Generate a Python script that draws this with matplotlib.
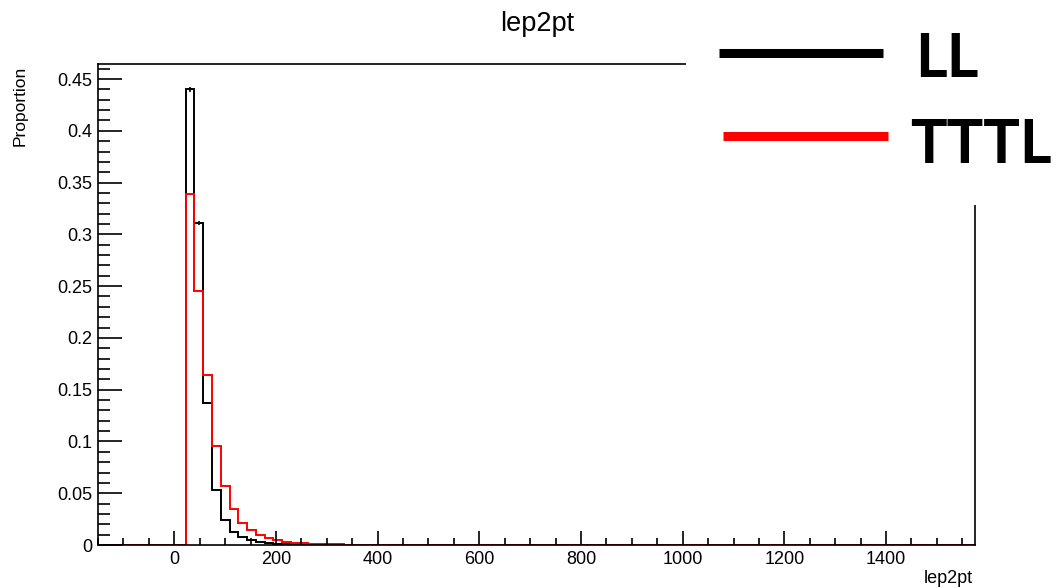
import numpy as np
import matplotlib
matplotlib.use('Agg')
import matplotlib.pyplot as plt
from matplotlib.ticker import MultipleLocator, FormatStrFormatter
from matplotlib.patches import Rectangle
from matplotlib.lines import Line2D

# histogram binning (100 bins)
x_lo, x_hi, n_bins = -150, 1575, 100
first_bin = 10  # first filled bin, starts at ~22.5

# bin contents, starting at first_bin
ll_vals = [0.440, 0.311, 0.137, 0.053, 0.0245, 0.0126, 0.0075, 0.005, 0.0031,
           0.002, 0.0014, 0.001, 0.0007, 0.0005, 0.0004, 0.0003, 0.0002]
ll_errs = [0.0022, 0.0018, 0.0012, 0.0007, 0.0005]
tttl_vals = [0.339, 0.2453, 0.1638, 0.0956, 0.0566, 0.0345, 0.0215, 0.0144,
             0.0101, 0.0068, 0.0045, 0.003, 0.0022, 0.0016, 0.0012, 0.0009,
             0.0007, 0.0005, 0.0004, 0.0003, 0.0002]
legend_labels = ['LL', 'TTTL']

edges = np.linspace(x_lo, x_hi, n_bins + 1)
centers = 0.5 * (edges[:-1] + edges[1:])

def full(vals):
    out = np.zeros(n_bins)
    out[first_bin:first_bin + len(vals)] = vals
    return out

ll = full(ll_vals)
tttl = full(tttl_vals)

plt.rcParams['font.family'] = ['Liberation Sans', 'DejaVu Sans']

W, H = 1058, 588
fig = plt.figure(figsize=(W / 100, H / 100), dpi=100)
ax = fig.add_axes([98 / W, 1 - 545 / H, (975 - 98) / W, (545 - 64) / H])

ax.stairs(ll, edges, color='black', lw=1.4, baseline=0)
ax.errorbar(centers[first_bin:first_bin + len(ll_errs)], ll_vals[:len(ll_errs)],
            yerr=ll_errs, fmt='none', ecolor='black', elinewidth=1.2)
ax.stairs(tttl, edges, color='#ff0000', lw=1.4, baseline=0)

ax.set_xlim(x_lo, x_hi)
ax.set_ylim(0, 0.4645)

ax.xaxis.set_major_locator(MultipleLocator(200))
ax.xaxis.set_minor_locator(MultipleLocator(50))
ax.yaxis.set_major_locator(MultipleLocator(0.05))
ax.yaxis.set_minor_locator(MultipleLocator(0.01))
ax.yaxis.set_major_formatter(FormatStrFormatter('%g'))

ax.tick_params(axis='both', which='both', direction='in', top=False, right=False,
               labelsize=13, width=1.2)
ax.tick_params(axis='y', which='major', length=17, pad=4)
ax.tick_params(axis='y', which='minor', length=8.5)
ax.tick_params(axis='x', which='major', length=10, pad=4)
ax.tick_params(axis='x', which='minor', length=4.7)
for s in ax.spines.values():
    s.set_linewidth(1.2)

fig.text(973 / W, 1 - 583 / H, 'lep2pt', ha='right', va='baseline', fontsize=13)
fig.text(20 / W, 1 - 106 / H, 'Proportion', rotation=90, ha='center', va='center',
         fontsize=12.5)
fig.text(537 / W, 1 - 31 / H, 'lep2pt', ha='center', va='baseline', fontsize=19.5)

# pasted legend box covering the top right corner of the frame
fig.add_artist(Rectangle((686 / W, 1 - 205 / H), 1 - 686 / W, 205 / H,
                         transform=fig.transFigure, facecolor='white',
                         edgecolor='none', zorder=10))
fig.add_artist(Line2D([719 / W, 883 / W], [1 - 53 / H, 1 - 53 / H],
                      transform=fig.transFigure, color='black', lw=6.5,
                      solid_capstyle='butt', zorder=11))
fig.add_artist(Line2D([723 / W, 888 / W], [1 - 136 / H, 1 - 136 / H],
                      transform=fig.transFigure, color='#ff0000', lw=6.5,
                      solid_capstyle='butt', zorder=11))
fig.text(915 / W, 1 - 77 / H, legend_labels[0], ha='left', va='baseline',
         fontsize=44, family='Lato', fontweight='bold', zorder=12)
fig.text(1052 / W, 1 - 163 / H, legend_labels[1], ha='right', va='baseline',
         fontsize=44, family='Lato', fontweight='bold', zorder=12)

fig.savefig('out.png', dpi=100)
